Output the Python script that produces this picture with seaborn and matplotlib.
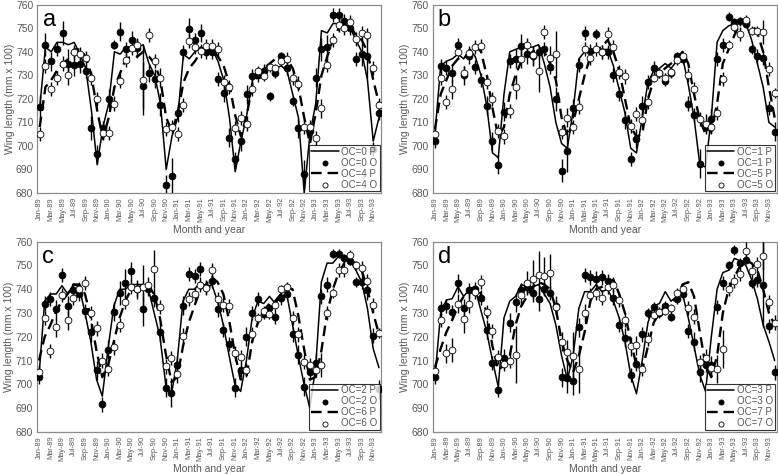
import matplotlib.pyplot as plt
import numpy as np
import pandas as pd
import seaborn as sns

months = np.arange(60)
month_labels = pd.date_range("1989-01-01", periods=60, freq="MS").strftime("%b-%y").tolist()

# ---- panel a : OC=0 / OC=4
a_pred0 = [716, 742, 740, 744, 744, 743, 744, 739, 733, 715, 692, 708,
           718, 740, 739, 742, 742, 742, 743, 735, 730, 718, 690, 704,
           712, 739, 737, 740, 742, 741, 741, 736, 728, 712, 689, 702,
           713, 728, 730, 733, 734, 733, 734, 732, 722, 712, 680, 705,
           718, 749, 748, 752, 752, 752, 750, 745, 740, 728, 702, 712]
a_obs0 = [716.5, 743, 736, 741, 748, 735, 734.5, 735, 732, 707.5, 696.5, 707.5,
          720, 743, 748.5, 741, 745, 741.5, 725.5, 731, 728.5, 717.5, 683.5, 687,
          714, 740, 749.5, 745, 748, 740, 740, 728.5, 722.5, 703.5, 694.5, 702,
          722, 729.5, 730, 732, 721, 731, 738, 733, 719, 707.5, 688, 706.5,
          729, 741, 742, 755.5, 755.5, 753, 750, 737, 739, 738, 698.5, 714]
a_err0 = [5, 5, 4, 3, 5, 6, 5, 4, 3, 5, 4, 3,
          4, 2, 4, 3, 4, 4, 10, 4, 4, 5, 4, 8,
          4, 3, 5, 3, 4, 3, 3, 3, 4, 4, 3, 4,
          4, 3, 3, 3, 2, 2, 2, 3, 2, 4, 6, 2,
          4, 5, 5, 3, 3, 3, 3, 3, 5, 9, 3, 3]
a_pred4 = [708, 725, 728, 732, 735, 737, 741, 741, 738, 730, 715, 703,
           712, 725, 731, 737, 738, 738, 740, 738, 735, 728, 712, 706,
           714, 727, 733, 736, 740, 741, 741, 738, 734, 726, 713, 704,
           713, 726, 730, 733, 735, 737, 739, 737, 733, 725, 712, 701,
           714, 730, 738, 745, 750, 752, 751, 747, 745, 740, 728, 718]
a_obs4 = [705, 734, 724, 729, 735, 730, 740, 739, 737.5, 729, 720, 705.5,
          705.5, 718, 727.5, 736.5, 741.5, 743, 728, 747, 736, 729, 707, 708,
          705, 717.5, 744.5, 742, 740.5, 742.5, 742.5, 741, 727, 725, 707.5, 712,
          709.5, 724, 732, 729.5, 733.5, 733, 736, 737, 729, 726.5, 708, 708,
          703.5, 716, 734.5, 745, 751.5, 750, 752.5, 745.5, 748, 747, 733, 717.5]
a_err4 = [3, 3, 3, 3, 3, 4, 3, 3, 3, 3, 3, 3,
          3, 3, 3, 3, 3, 3, 15, 3, 3, 4, 3, 3,
          3, 3, 3, 3, 3, 3, 3, 3, 3, 3, 3, 3,
          3, 3, 2, 2, 2, 2, 2, 3, 3, 3, 3, 3,
          3, 4, 3, 3, 3, 3, 3, 3, 3, 3, 3, 3]

# ---- panel b : OC=1 / OC=5
b_pred1 = [705, 734, 736, 737, 739, 737, 741, 738, 730, 717, 697, 695,
           722, 740, 741, 742, 742, 742, 743, 735, 725, 710, 701, 699,
           715, 737, 740, 741, 740, 741, 741, 734, 724, 714, 699, 697,
           712, 727, 732, 733, 735, 733, 736, 738, 726, 712, 692, 691,
           712, 744, 749, 751, 752, 753, 752, 745, 735, 725, 710, 708]
b_obs1 = [702, 734, 733, 731, 743, 730, 738, 733.5, 728, 717, 702, 692,
          714.5, 736, 737, 742.5, 739, 738, 740, 741, 733.5, 720, 689.5, 698,
          716, 734.5, 748, 740.5, 747.5, 740, 740, 730, 722, 711, 694.5, 703,
          717, 727, 733, 731, 727.5, 731, 738, 737, 718, 713, 692.5, 708,
          711.5, 737, 743, 755, 752.5, 753, 752, 741, 738, 737.5, 716, 706]
b_err1 = [3, 3, 3, 4, 3, 4, 3, 3, 3, 4, 4, 4,
          4, 3, 4, 5, 4, 4, 3, 3, 3, 5, 5, 9,
          4, 3, 3, 3, 2, 3, 3, 3, 3, 4, 3, 4,
          4, 3, 3, 2, 2, 2, 2, 2, 3, 3, 6, 3,
          4, 3, 3, 2, 2, 2, 2, 2, 3, 3, 3, 4]
b_pred5 = [707, 722, 728, 734, 737, 737, 740, 743, 740, 730, 716, 704,
           708, 722, 730, 736, 738, 740, 742, 740, 735, 728, 712, 704,
           710, 720, 730, 738, 741, 742, 745, 740, 732, 720, 708, 704,
           705, 720, 728, 731, 733, 735, 737, 740, 735, 722, 711, 705,
           706, 718, 735, 741, 747, 752, 753, 752, 748, 740, 725, 712]
b_obs5 = [705, 729, 718.5, 724, 740, 731, 739.5, 742, 742.5, 727, 720, 706.5,
          704, 715, 725, 737, 743, 738.5, 732, 748.5, 737.5, 739, 706, 712,
          708, 716.5, 741, 737.5, 741, 740, 747.5, 742, 731.5, 729.5, 708.5, 713.5,
          711, 718.5, 729, 731, 729, 731.5, 736.5, 738, 730, 724, 711.5, 709.5,
          708, 714, 728.5, 743, 750.5, 747.5, 753.5, 749, 749, 748.5, 732.5, 722.5]
b_err5 = [3, 3, 3, 4, 3, 3, 3, 3, 3, 3, 3, 3,
          3, 3, 5, 4, 3, 4, 9, 3, 5, 10, 3, 4,
          3, 3, 3, 3, 3, 3, 3, 3, 3, 3, 3, 3,
          3, 3, 2, 2, 2, 2, 2, 2, 3, 3, 3, 4,
          3, 3, 3, 2, 2, 3, 2, 2, 2, 5, 3, 2]

# ---- panel c : OC=2 / OC=6
c_pred2 = [703, 735, 738, 738, 741.5, 738, 742, 741, 730, 718, 702, 695,
           715, 733, 740, 740, 742, 742, 742, 740, 730, 720, 700, 696,
           710, 735, 740, 740, 743, 740, 742, 735, 725, 712, 700, 697,
           710, 728, 735, 734, 737, 734, 737, 738, 725, 712, 700, 690,
           707, 743, 751, 751, 754, 752, 752, 748, 743, 732, 715, 707]
c_obs2 = [703, 734, 736, 731.5, 746, 733, 739.5, 738, 731, 722, 706, 691.5,
          714.5, 730.5, 738.5, 742.5, 747.5, 740, 731.5, 740, 736.5, 722, 698.5, 696.5,
          708, 733, 746.5, 745.5, 748.5, 741, 743.5, 731.5, 723, 717, 698.5, 706,
          720, 730, 736, 729.5, 732, 728.5, 736.5, 738, 721, 712.5, 699, 705,
          709, 737, 742, 755, 755, 753, 752, 743, 743, 739.5, 720.5, 698]
c_err2 = [3, 3, 3, 4, 3, 4, 3, 3, 3, 4, 4, 3,
          4, 4, 5, 6, 4, 4, 7, 3, 4, 4, 4, 6,
          4, 4, 3, 3, 3, 3, 3, 3, 3, 3, 4, 3,
          4, 3, 3, 2, 2, 3, 3, 2, 3, 4, 4, 3,
          4, 3, 3, 2, 2, 2, 2, 2, 3, 4, 3, 4]
c_pred6 = [710, 720, 725, 731, 735, 738, 742, 742, 738, 728, 714, 703,
           708, 718, 728, 735, 740, 740, 742, 741, 738, 728, 713, 701,
           703, 716, 726, 733, 740, 742, 745, 743, 738, 727, 713, 702,
           703, 718, 726, 731, 734, 735, 738, 741, 740, 729, 715, 702,
           703, 714, 730, 740, 747, 751, 752, 751, 748, 740, 730, 721]
c_obs6 = [705, 728, 714, 724, 737.5, 727, 736.5, 740, 742.5, 730, 723.5, 710,
          706.5, 715.5, 725, 734.5, 741, 740, 741, 742, 748.5, 732.5, 707.5, 711,
          704.5, 720.5, 736, 738, 742, 740.5, 748, 736, 733.5, 733, 713, 711.5,
          706, 721, 728, 731, 729.5, 733.5, 740, 741, 728, 721, 709.5, 708,
          706, 708, 730, 738.5, 748, 748, 754.5, 750, 749, 743.5, 733.5, 721.5]
c_err6 = [3, 3, 3, 4, 3, 4, 3, 3, 3, 3, 3, 3,
          3, 3, 3, 3, 3, 3, 9, 3, 8, 3, 3, 3,
          4, 3, 3, 3, 3, 3, 3, 3, 3, 3, 3, 3,
          3, 3, 2, 2, 2, 2, 2, 2, 3, 3, 3, 3,
          3, 5, 3, 2, 3, 3, 2, 2, 3, 3, 3, 2]

# ---- panel d : OC=3 / OC=7
d_pred3 = [703, 730, 735.5, 736, 741, 737, 740, 740, 731, 722, 710, 699,
           728, 735, 737, 742, 741, 741, 742, 738, 734, 725, 712, 702,
           712, 732, 739, 739, 742, 739, 740, 735, 728, 718, 704, 696,
           710, 726, 733, 734, 739, 735, 737, 738, 728, 716, 704, 697,
           720, 740, 747, 748, 753, 752, 750, 744, 736, 725, 718, 710]
d_obs3 = [703, 732, 733, 730.5, 742.5, 732, 739.5, 740, 736.5, 723, 709, 697.5,
          711, 726, 734.5, 739.5, 741, 738.5, 736, 740, 738.5, 733, 703, 702.5,
          701.5, 724, 746, 745, 744.5, 745, 743.5, 736.5, 725, 719.5, 704, 708.5,
          721, 730, 732.5, 730, 733, 728.5, 736, 738, 722.5, 718, 705, 708,
          708, 732.5, 742.5, 750, 756.5, 751, 752.5, 742.5, 744, 742, 724.5, 705]
d_err3 = [3, 3, 3, 3, 4, 4, 3, 3, 3, 4, 3, 3,
          4, 4, 4, 3, 3, 4, 5, 3, 3, 4, 4, 6,
          6, 4, 3, 3, 3, 3, 3, 3, 3, 4, 3, 3,
          3, 2, 2, 2, 2, 2, 2, 2, 3, 4, 4, 3,
          4, 3, 3, 2, 2, 2, 2, 2, 3, 18, 3, 3]
d_pred7 = [707, 715, 722, 727, 733, 737, 740, 741, 738, 730, 716, 706,
           708, 712, 725, 733, 737, 741, 743, 742, 740, 732, 718, 710,
           705, 712, 722, 735, 740, 741, 743, 744, 738, 730, 718, 708,
           706, 716, 726, 730, 733, 735, 736, 742, 743, 737, 722, 708,
           703, 712, 730, 740, 745, 750, 752, 751, 748, 740, 730, 725]
d_obs7 = [705.5, 727, 713, 714.5, 734, 727.5, 734, 739, 743, 730.5, 722.5, 711.5,
          708.5, 710, 712.5, 737.5, 742.5, 744.5, 746, 745.5, 747, 732.5, 718, 713.5,
          712, 706.5, 730, 737.5, 738.5, 736.5, 741, 742, 735.5, 727, 716, 716.5,
          706.5, 719, 729, 730.5, 731, 732, 738.5, 740, 732, 728.5, 709.5, 711,
          707, 706.5, 715, 740, 743.5, 746.5, 756, 747.5, 750.5, 754, 734.5, 726]
d_err7 = [3, 3, 4, 5, 4, 6, 4, 3, 3, 3, 3, 3,
          3, 3, 12, 4, 5, 8, 10, 8, 8, 3, 4, 5,
          10, 10, 4, 3, 3, 3, 3, 3, 3, 3, 4, 4,
          3, 3, 2, 2, 2, 2, 2, 2, 3, 3, 3, 4,
          3, 6, 8, 3, 3, 3, 4, 3, 3, 6, 3, 3]

GRAY = "#595959"


def plot_panel(ax, letter, pred_a, obs_a, err_a, pred_b, obs_b, err_b, labels):
    sns.lineplot(x=months, y=pred_a, ax=ax, color="black", lw=1.1,
                 label=labels[0], zorder=2)
    ax.errorbar(months, obs_a, yerr=err_a, fmt="none", ecolor="black",
                elinewidth=1.0, zorder=3)
    sns.scatterplot(x=months, y=obs_a, ax=ax, color="black", s=24,
                    edgecolor="black", linewidth=0.6, label=labels[1], zorder=4)
    sns.lineplot(x=months, y=pred_b, ax=ax, color="black", lw=1.7,
                 label=labels[2], zorder=2)
    ax.lines[-1].set_dashes((4.5, 2.5))
    ax.errorbar(months, obs_b, yerr=err_b, fmt="none", ecolor="black",
                elinewidth=1.0, zorder=3)
    sns.scatterplot(x=months, y=obs_b, ax=ax, color="white", s=24,
                    edgecolor="black", linewidth=0.6, label=labels[3], zorder=4)

    ax.set_xlim(-0.38, 59.35)
    ax.set_ylim(680, 760)
    ax.set_yticks(np.arange(680, 761, 10))
    ax.set_xticks(months[::2])
    ax.set_xticklabels(month_labels[::2], rotation=90, fontsize=5.3, color=GRAY)
    ax.tick_params(axis="y", labelsize=7.5, labelcolor=GRAY, length=0, pad=3)
    ax.tick_params(axis="x", length=0, pad=3)
    ax.set_xlabel("Month and year", fontsize=7.5, color=GRAY, labelpad=2)
    ax.set_ylabel("Wing length (mm x 100)", fontsize=7.5, color=GRAY, labelpad=1)
    for sp in ax.spines.values():
        sp.set_color("#8c8c8c")
        sp.set_linewidth(0.9)
    ax.text(0.015, 0.975, letter, transform=ax.transAxes, fontsize=17,
            va="top", ha="left", color="black")
    leg = ax.legend(loc="lower right", fontsize=7, frameon=True, fancybox=False,
                    edgecolor="black", handlelength=2.8, handletextpad=0.3,
                    borderpad=0.2, labelspacing=0.1, borderaxespad=0.15,
                    labelcolor=GRAY, markerscale=0.75)
    leg.get_frame().set_linewidth(0.8)


sns.set_style("white")
plt.rcParams["font.family"] = ["Liberation Sans", "DejaVu Sans"]

fig = plt.figure(figsize=(7.78, 4.74), dpi=100)
ax_a = fig.add_axes([0.0482, 0.593, 0.4415, 0.397])
ax_b = fig.add_axes([0.5562, 0.593, 0.4421, 0.397])
ax_c = fig.add_axes([0.0472, 0.089, 0.4425, 0.401])
ax_d = fig.add_axes([0.5562, 0.089, 0.4421, 0.401])

plot_panel(ax_a, "a", a_pred0, a_obs0, a_err0, a_pred4, a_obs4, a_err4,
           ["OC=0 P", "OC=0 O", "OC=4 P", "OC=4 O"])
plot_panel(ax_b, "b", b_pred1, b_obs1, b_err1, b_pred5, b_obs5, b_err5,
           ["OC=1 P", "OC=1 P", "OC=5 P", "OC=5 O"])
plot_panel(ax_c, "c", c_pred2, c_obs2, c_err2, c_pred6, c_obs6, c_err6,
           ["OC=2 P", "OC=2 O", "OC=6 P", "OC=6 O"])
plot_panel(ax_d, "d", d_pred3, d_obs3, d_err3, d_pred7, d_obs7, d_err7,
           ["OC=3 P", "OC=3 O", "OC=7 P", "OC=7 O"])

fig.savefig("out.png", dpi=100)
